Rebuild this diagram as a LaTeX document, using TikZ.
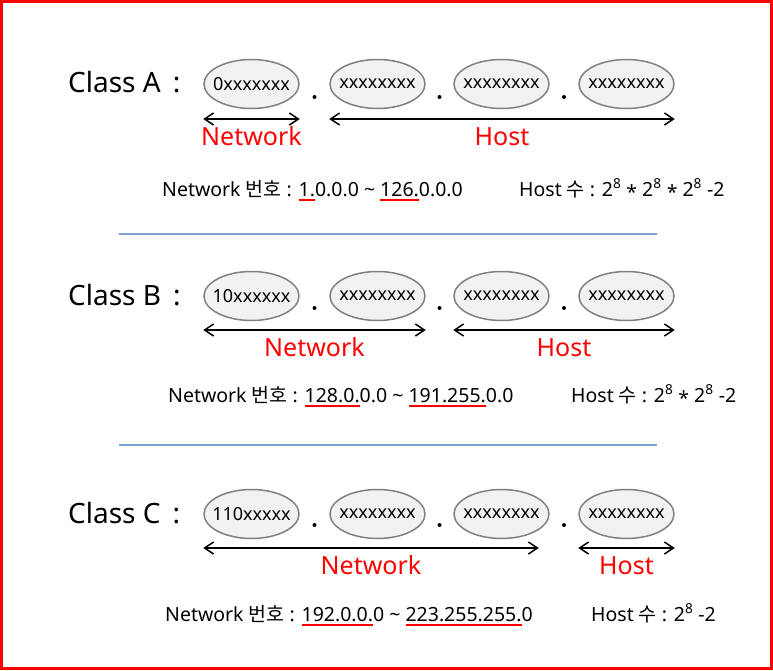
\documentclass[tikz,border=0pt]{standalone}
\usepackage{fontspec}
\setmainfont{Noto Sans}
\newfontfamily\kr{Noto Sans CJK KR}
\usetikzlibrary{shapes.geometric,arrows.meta,calc}
\definecolor{divblue}{RGB}{125,160,212}
\newcommand\redul[1]{\setbox0\hbox{#1}\rlap{\color{red}\rule[-5pt]{\wd0}{1.6pt}}\box0\relax}
\newcommand\mulstar{\raisebox{-0.35ex}{*}}
\tikzset{
  octet/.style={ellipse, draw=gray, line width=1.5pt, fill=gray!10, minimum width=95pt,
    minimum height=49pt, inner xsep=-8pt, inner ysep=0pt, font=\fontsize{18}{21}\selectfont},
  classlbl/.style={anchor=west, inner sep=0pt, font=\fontsize{28}{32}\selectfont},
  bitspan/.style={<->, line width=1.5pt, >={Straight Barb[length=9pt,width=12pt]}},
  partlbl/.style={below=8pt, inner sep=0pt, text height=18pt, text depth=0pt, red,
    font=\fontsize{25}{30}\selectfont},
  info/.style={anchor=base west, inner sep=0pt, font=\fontsize{19.5}{23}\selectfont},
  divider/.style={line width=2pt, divblue}
}
\begin{document}
\begin{tikzpicture}[x=1pt, y=-1pt]
    \useasboundingbox (0,0) rectangle (773,670);
    \draw[red, line width=3pt] (1.5,1.5) rectangle (771.5,668.5);

    % Class A
    \node[classlbl] (clsA) at (68,82) {Class A \,:};
    \foreach \i/\x/\t in {1/251.5/0xxxxxxx,2/377.5/xxxxxxxx,3/501.5/xxxxxxxx,4/626.5/xxxxxxxx}
        \node[octet] (a\i) at (\x,84) {\t};
    \foreach \i/\j in {1/2,2/3,3/4} \fill ($(a\i.east)!.5!(a\j.west)+(0,13)$) circle (2pt);
    \draw[bitspan] (a1.west |- 0,119) -- node[partlbl] {Network} (a1.east |- 0,119);
    \draw[bitspan] (a2.west |- 0,119) -- node[partlbl] {Host} (a4.east |- 0,119);
    \node[info] (netA) at (162,196) {Network {\kr 번호} : \redul{1.}0.0.0 \textasciitilde{} \redul{126.}0.0.0};
    \node[info] (hostA) at (519,196) {Host {\kr 수} : 2\textsuperscript{8} \mulstar{} 2\textsuperscript{8} \mulstar{} 2\textsuperscript{8} -2};

    \draw[divider] (119,234) -- (657,234);

    % Class B
    \node[classlbl] (clsB) at (68,295) {Class B \,:};
    \foreach \i/\x/\t in {1/251.5/10xxxxxx,2/377.5/xxxxxxxx,3/501.5/xxxxxxxx,4/626.5/xxxxxxxx}
        \node[octet] (b\i) at (\x,296) {\t};
    \foreach \i/\j in {1/2,2/3,3/4} \fill ($(b\i.east)!.5!(b\j.west)+(0,12)$) circle (2pt);
    \draw[bitspan] (b1.west |- 0,330) -- node[partlbl] {Network} (b2.east |- 0,330);
    \draw[bitspan] (b3.west |- 0,330) -- node[partlbl] {Host} (b4.east |- 0,330);
    \node[info] (netB) at (168,402) {Network {\kr 번호} : \redul{128.0.}0.0 \textasciitilde{} \redul{191.255.}0.0};
    \node[info] (hostB) at (571,402) {Host {\kr 수} : 2\textsuperscript{8} \mulstar{} 2\textsuperscript{8} -2};

    \draw[divider] (119,445) -- (657,445);

    % Class C
    \node[classlbl] (clsC) at (68,513) {Class C \,:};
    \foreach \i/\x/\t in {1/251.5/110xxxxx,2/377.5/xxxxxxxx,3/501.5/xxxxxxxx,4/626.5/xxxxxxxx}
        \node[octet] (c\i) at (\x,514) {\t};
    \foreach \i/\j in {1/2,2/3,3/4} \fill ($(c\i.east)!.5!(c\j.west)+(0,11)$) circle (2pt);
    \draw[bitspan] (c1.west |- 0,548) -- node[partlbl] {Network} ($(c3.east |- 0,548)+(-11,0)$);
    \draw[bitspan] (c4.west |- 0,548) -- node[partlbl] {Host} (c4.east |- 0,548);
    \node[info] (netC) at (165,621) {Network {\kr 번호} : \redul{192.0.0.}0 \textasciitilde{} \redul{223.255.255.}0};
    \node[info] (hostC) at (591,621) {Host {\kr 수} : 2\textsuperscript{8} -2};
\end{tikzpicture}
\end{document}
